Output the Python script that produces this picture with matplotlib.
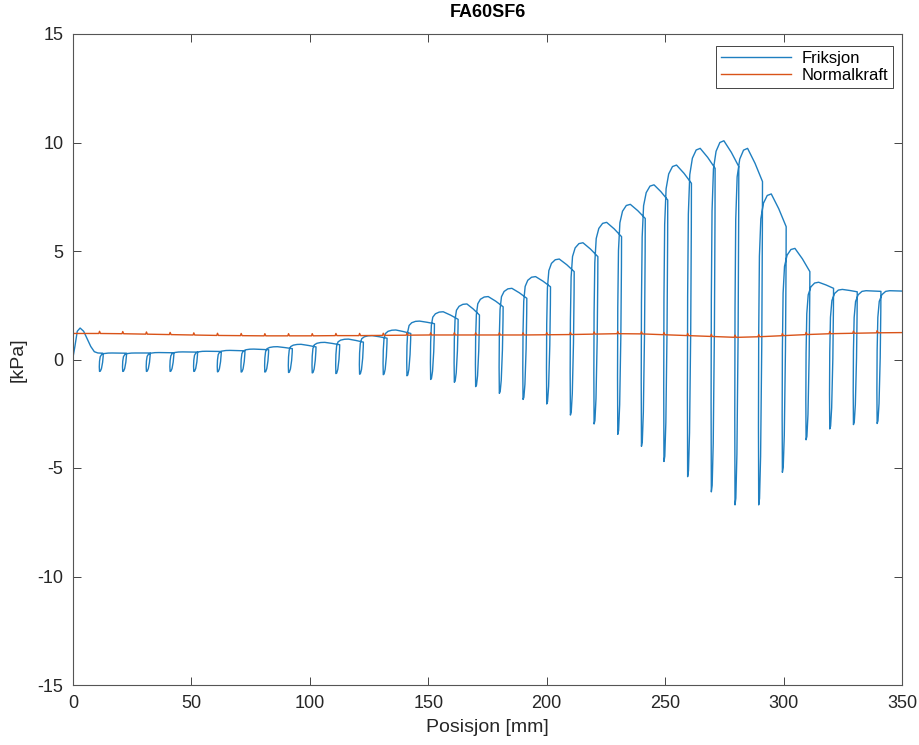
# Friksjon og normalkraft langs posisjon, FA60SF6
import numpy as np
import matplotlib
matplotlib.use('Agg')
import matplotlib.pyplot as plt

######## Data (lest av figuren) ##########
# start of the run, before the first reversal
init_x = [0, 0.8, 1.8, 3.0, 4.5, 6.0, 7.5, 9.0, 10.5, 12.6]
init_y = [0.10, 0.6, 1.3, 1.45, 1.3, 0.95, 0.6, 0.36, 0.30, 0.29]

# bottom of each reversal dip [mm] and its value [kPa]
dip_x = [11.2, 21, 31, 41, 51, 61, 71, 81, 91, 101, 111, 121, 131, 141, 151, 161,
         170, 180, 190, 200, 210, 220, 230, 240, 249.5, 259.5, 269.5, 279.5,
         289.5, 299.5, 309.5, 319.5, 329.5, 339.5]
dip_min = [-0.55, -0.55, -0.55, -0.55, -0.55, -0.57, -0.58, -0.58, -0.60, -0.62,
           -0.65, -0.68, -0.70, -0.75, -0.92, -1.05, -1.25, -1.56, -1.84, -2.05,
           -2.56, -2.97, -3.45, -4.00, -4.70, -5.40, -6.10, -6.70, -6.70, -5.20,
           -3.70, -3.20, -3.00, -2.95]
# top of the stroke after each dip, and value just before the next dip
seg_peak = [0.30, 0.30, 0.32, 0.35, 0.38, 0.42, 0.48, 0.59, 0.70, 0.79, 0.94, 1.10,
            1.36, 1.77, 2.20, 2.56, 2.90, 3.28, 3.82, 4.63, 5.38, 6.32, 7.15, 8.05,
            8.96, 9.73, 10.08, 9.73, 7.63, 5.12, 3.56, 3.23, 3.17, 3.17]
seg_end = [0.29, 0.30, 0.31, 0.34, 0.37, 0.40, 0.45, 0.50, 0.58, 0.68, 0.80, 0.98,
           1.20, 1.65, 1.85, 2.05, 2.43, 2.82, 3.35, 4.05, 4.74, 5.66, 6.50, 7.35,
           8.12, 8.81, 8.89, 8.20, 6.12, 4.05, 3.28, 3.12, 3.14, 3.15]

# normal force, sampled every 10 mm
norm_x = list(range(0, 351, 10))
norm_y = [1.20, 1.20, 1.19, 1.17, 1.15, 1.13, 1.11, 1.10, 1.09, 1.09, 1.09, 1.10,
          1.10, 1.11, 1.12, 1.13, 1.13, 1.13, 1.13, 1.13, 1.14, 1.15, 1.17, 1.19,
          1.18, 1.14, 1.10, 1.06, 1.02, 1.05, 1.10, 1.15, 1.19, 1.21, 1.23, 1.24]

######## Build the friction trace ##########
# shape of one stroke: (dx from dip, fraction of the way from dip to peak)
rise_shape = [(0.0, 0.0), (-0.1, 0.25), (0.0, 0.55), (0.3, 0.8), (0.9, 0.92),
              (2.0, 0.97), (3.6, 0.995), (5.3, 1.0)]
# drop into the next dip: (dx from next dip, fraction of the way from dip to end value)
drop_shape = [(1.6, 1.0), (1.55, 0.85), (1.3, 0.5), (0.8, 0.15), (0.35, 0.02)]

fx, fy = list(init_x), list(init_y)
for dx, fr in drop_shape[1:]:
    fx.append(dip_x[0] + dx)
    fy.append(dip_min[0] + fr * (init_y[-1] - dip_min[0]))

for i in range(len(dip_x)):
    d, m, P, E = dip_x[i], dip_min[i], seg_peak[i], seg_end[i]
    for dx, fr in rise_shape:
        fx.append(d + dx)
        fy.append(m + fr * (P - m))
    if i + 1 < len(dip_x):
        nd, nm = dip_x[i + 1], dip_min[i + 1]
        # middle of the decline from peak to end
        fx.append((d + 5.3 + nd + 1.6) / 2)
        fy.append(E + 0.55 * (P - E))
        for dx, fr in drop_shape:
            fx.append(nd + dx)
            fy.append(nm + fr * (E - nm))
    else:
        fx.append(351)
        fy.append(E)

# normal force with the small kink at every reversal
nx = np.array(norm_x, dtype=float)
ny = np.array(norm_y, dtype=float)
kx = np.sort(np.concatenate([nx, np.array(dip_x) - 0.3, np.array(dip_x), np.array(dip_x) + 0.4]))
ky = np.interp(kx, nx, ny)
for d in dip_x:
    ky[np.isclose(kx, d)] += 0.1

######## Plot ##########
plt.rcParams['font.family'] = ['Liberation Sans', 'DejaVu Sans']
plt.rcParams['axes.unicode_minus'] = False

fig = plt.figure(figsize=(9.19, 7.45), dpi=100)
ax = fig.add_axes([73/919, 60/745, 829/919, 651/745])

ax.plot(fx, fy, color='#1f7fc0', linewidth=1.0, label='Friksjon')
ax.plot(kx, ky, color='#D95319', linewidth=1.0, label='Normalkraft')

ax.set_xlim(0, 350)
ax.set_ylim(-15, 15)
ax.set_xticks(range(0, 351, 50))
ax.set_yticks(range(-15, 16, 5))
ax.tick_params(direction='in', length=6, width=0.6, top=True, right=True,
               labelsize=13, colors='#262626', pad=7)
for s in ax.spines.values():
    s.set_color('#555555')
    s.set_linewidth(0.8)

ax.set_xlabel('Posisjon [mm]', fontsize=14, color='#262626', labelpad=5)
ax.set_ylabel('[kPa]', fontsize=14, color='#262626', labelpad=8)
ax.set_title('FA60SF6', fontsize=13, fontweight='bold', color='#000000', pad=12)

leg = ax.legend(loc='upper right', bbox_to_anchor=(1 - 9/829, 1 - 12/651),
                borderaxespad=0, fancybox=False, framealpha=1, fontsize=12,
                handlelength=4.2, labelspacing=0.1, borderpad=0.3, handletextpad=0.6)
leg.get_frame().set_edgecolor('#262626')
leg.get_frame().set_linewidth(0.6)

plt.savefig('out.png', dpi=100)
